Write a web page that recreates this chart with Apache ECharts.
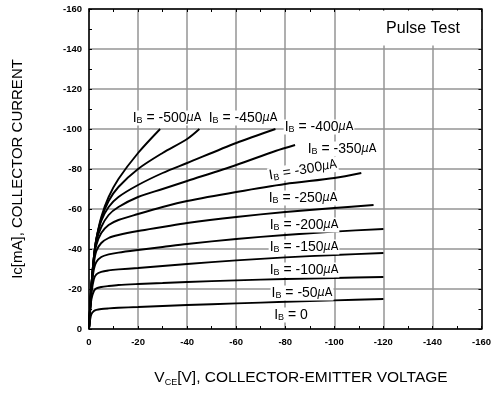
<!DOCTYPE html>
<html><head><meta charset="utf-8">
<script src="https://cdn.jsdelivr.net/npm/echarts@6/dist/echarts.min.js"></script>
<style>html,body{margin:0;padding:0;background:#fff}#c{width:494px;height:400px}</style>
</head><body><div id="c"></div>
<script>
// ---- data (VCE in V, Ic in mA) ----
const xTickValues = [0, -20, -40, -60, -80, -100, -120, -140, -160];
const yTickValues = [0, -20, -40, -60, -80, -100, -120, -140, -160];
const ibNames = ['-50', '-100', '-150', '-200', '-250', '-300', '-350', '-400', '-450', '-500'];
const curveIb50  = [[0,0],[-0.5,-5],[-1,-7.5],[-2,-9],[-3,-9.6],[-5,-10],[-8,-10.3],[-12,-10.6],[-20,-11],[-30,-11.5],[-40,-12],[-60,-12.8],[-80,-13.6],[-100,-14.3],[-120,-15]];
const curveIb100 = [[0,0],[-0.5,-9],[-1,-15],[-2,-19],[-3,-20.3],[-5,-21],[-8,-21.5],[-12,-22],[-20,-22.5],[-30,-23],[-40,-23.5],[-60,-24.3],[-80,-25],[-100,-25.5],[-120,-26]];
const curveIb150 = [[0,0],[-0.5,-10],[-1,-18],[-2,-25],[-3,-27.3],[-5,-28.6],[-8,-29.3],[-12,-29.8],[-20,-30.5],[-30,-31.5],[-40,-32.5],[-60,-34.3],[-80,-35.8],[-100,-37],[-120,-38]];
const curveIb200 = [[0,0],[-0.5,-11],[-1,-20],[-2,-30],[-3,-33.5],[-5,-36],[-8,-37.3],[-12,-38.2],[-20,-39.5],[-30,-41],[-40,-42.5],[-60,-45],[-80,-47],[-100,-48.7],[-120,-50]];
const curveIb250 = [[0,0],[-0.5,-11.5],[-1,-21],[-2,-33],[-3,-39],[-5,-43],[-8,-45.5],[-12,-47],[-20,-49],[-30,-51],[-40,-53],[-60,-56],[-80,-58.5],[-100,-60.5],[-116,-62]];
const curveIb300 = [[0,0],[-0.5,-12],[-1,-22],[-2,-35],[-3,-42],[-5,-48],[-8,-52],[-12,-54.5],[-20,-57.5],[-30,-61],[-40,-64],[-60,-68.5],[-80,-72.5],[-100,-75.5],[-111,-78]];
const curveIb350 = [[0,0],[-0.5,-12],[-1,-22],[-2,-36],[-3,-44],[-5,-51],[-8,-57],[-12,-61],[-20,-66],[-30,-70],[-40,-74],[-60,-82],[-76,-89],[-84,-92]];
const curveIb400 = [[0,0],[-0.5,-12],[-1,-22],[-2,-36],[-3,-45],[-5,-54],[-8,-61],[-12,-66],[-20,-72],[-30,-78],[-40,-83],[-60,-93],[-76,-100]];
const curveIb450 = [[0,0],[-0.5,-12],[-1,-22],[-2,-36],[-3,-45],[-5,-55],[-8,-64],[-12,-71],[-20,-80],[-30,-88],[-40,-95],[-45,-100]];
const curveIb500 = [[0,0],[-0.5,-12],[-1,-22],[-2,-36],[-3,-45],[-5,-56],[-8,-66],[-12,-75],[-20,-88],[-29,-100]];
const curves = [curveIb50, curveIb100, curveIb150, curveIb200, curveIb250, curveIb300, curveIb350, curveIb400, curveIb450, curveIb500];
const labelTexts = ['0', '-50', '-100', '-150', '-200', '-250', '-300', '-350', '-400', '-450', '-500'];

// ---- layout ----
const G = {left: 89, top: 9, width: 393, height: 320};
const labelPos = { // pixel centres of the IB labels
  '0': [291, 315], '-50': [302, 293], '-100': [304, 270], '-150': [304, 247], '-200': [304, 225],
  '-250': [303, 198], '-300': [303, 170, 0.17], '-350': [342, 149], '-400': [319, 127],
  '-450': [243, 118], '-500': [167, 118]
};
const FONT = '"Liberation Sans", Arial, sans-serif';
const NARROW = '"Liberation Sans Narrow", "DejaVu Sans Condensed", ' + FONT;

const labelRich = {
  i: {fontSize: 14, fontFamily: FONT, color: '#000', lineHeight: 15},
  b: {fontSize: 9, fontFamily: FONT, color: '#000', lineHeight: 15, verticalAlign: 'bottom', padding: [5, 0, 0, 0]},
  mu: {fontSize: 12.5, fontFamily: NARROW, fontStyle: 'italic', color: '#000', lineHeight: 15},
  a: {fontSize: 12.5, fontFamily: NARROW, color: '#000', lineHeight: 15}
};
function ibLabel(v) {
  if (v === '0') return '{i|I}{b|B}{i| = 0}';
  return '{i|I}{b|B}{i| = ' + v + '}{mu|μ}{a|A}';
}

const graphics = labelTexts.map(v => {
  const p = labelPos[v];
  return {
    type: 'text', x: p[0], y: p[1], rotation: p[2] || 0, z: 100,
    style: {text: ibLabel(v), rich: labelRich, align: 'center', verticalAlign: 'middle',
            backgroundColor: '#fff', padding: [0, 1]}
  };
});
graphics.push({type: 'rect', shape: {x: 345, y: 10.5, width: 136, height: 35}, style: {fill: '#fff'}, z: 90});
graphics.push({type: 'text', x: 423, y: 29, z: 100, style: {text: 'Pulse Test', font: '16px ' + FONT, fill: '#000', align: 'center', verticalAlign: 'middle'}});
graphics.push({type: 'text', x: 18, y: 169, rotation: Math.PI / 2, z: 100,
  style: {text: 'Ic[mA], COLLECTOR CURRENT', font: '15px ' + FONT, fill: '#000', align: 'center', verticalAlign: 'middle'}});
graphics.push({type: 'text', x: 301, y: 378, z: 100,
  style: {text: '{m|V}{s|CE}{m|[V], COLLECTOR-EMITTER VOLTAGE}', align: 'center', verticalAlign: 'middle',
    rich: {m: {fontSize: 15.5, fontFamily: FONT, color: '#000', lineHeight: 18},
           s: {fontSize: 9, fontFamily: FONT, color: '#000', lineHeight: 18, verticalAlign: 'bottom', padding: [7, 0, 0, 0]}}}});

const tickLabel = {fontSize: 9.5, fontWeight: 'bold', fontFamily: FONT, color: '#000'};
const axisCommon = {
  type: 'value', min: -160, max: 0, interval: 20, inverse: true,
  axisLine: {show: true, onZero: false, lineStyle: {color: '#000', width: 1.5}},
  axisTick: {show: true, inside: true, length: 3, lineStyle: {color: '#000'}},
  minorTick: {show: true, splitNumber: 2, length: 3, lineStyle: {color: '#000', width: 1}}
};

const option = {
  animation: false,
  backgroundColor: '#fff',
  grid: G,
  xAxis: [
    Object.assign({}, axisCommon, {position: 'bottom',
      axisLabel: Object.assign({margin: 8, formatter: v => xTickValues.includes(v) ? String(v) : ''}, tickLabel),
      splitLine: {show: true, lineStyle: {color: '#959595', width: 1.5}}}),
    Object.assign({}, axisCommon, {position: 'top', axisLabel: {show: false}, splitLine: {show: false}})
  ],
  yAxis: [
    Object.assign({}, axisCommon, {position: 'left',
      axisLabel: Object.assign({margin: 7, formatter: v => yTickValues.includes(v) ? String(v) : ''}, tickLabel),
      splitLine: {show: true, lineStyle: {color: '#959595', width: 1.5}}}),
    Object.assign({}, axisCommon, {position: 'right', axisLabel: {show: false}, splitLine: {show: false}})
  ],
  series: curves.map((c, k) => ({
    name: 'IB = ' + ibNames[k] + 'μA', type: 'line', data: c, showSymbol: false, smooth: 0.3,
    lineStyle: {color: '#000', width: 1.9}, xAxisIndex: 0, yAxisIndex: 0, z: 5
  })),
  graphic: graphics
};
const chart = echarts.init(document.getElementById('c'), null, {renderer: 'canvas'});
chart.setOption(option);
</script></body></html>
